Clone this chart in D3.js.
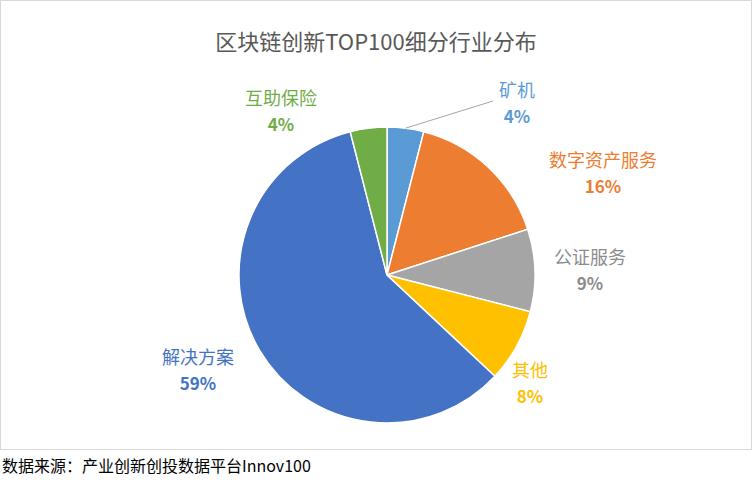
<!DOCTYPE html>
<html><head><meta charset="utf-8">
<script src="https://cdn.jsdelivr.net/npm/d3@7"></script>
<style>body{margin:0;background:#fff}</style>
</head><body>
<svg id="c" width="752" height="482"></svg>
<script>
const categories = ["矿机","数字资产服务","公证服务","其他","解决方案","互助保险"];
const values = [4,16,9,8,59,4];
const colors = ["#5B9BD5","#ED7D31","#A5A5A5","#FFC000","#4472C4","#70AD47"];
const labelPos = [[517,90],[603,160],[590,257],[530,370],[198,357],[281,98]];
const svg = d3.select("#c");
const font = "'Microsoft YaHei','Noto Sans CJK SC',sans-serif";
svg.append("rect").attr("x",0.5).attr("y",0.5).attr("width",751).attr("height",449).attr("fill","#fff").attr("stroke","#d9d9d9");
svg.append("text").attr("x",376).attr("y",50).attr("text-anchor","middle")
  .attr("font-family",font).attr("font-size",22).attr("fill","#595959").text("区块链创新TOP100细分行业分布");
const cx=387, cy=275, r=148;
const pie = d3.pie().sort(null).value(d=>d)(values);
const arc = d3.arc().innerRadius(0).outerRadius(r);
const g = svg.append("g").attr("transform",`translate(${cx},${cy})`);
g.selectAll("path").data(pie).join("path").attr("d",arc)
  .attr("fill",(d,i)=>colors[i]).attr("stroke","#fff").attr("stroke-width",1.5);
const a0 = (pie[0].startAngle+pie[0].endAngle)/2;
svg.append("line").attr("x1",cx+Math.sin(a0)*r).attr("y1",cy-Math.cos(a0)*r)
  .attr("x2",493).attr("y2",101).attr("stroke","#a6a6a6");
categories.forEach((c,i)=>{
  const [x,y]=labelPos[i];
  const col = i==2? "#8c8c8c" : colors[i];
  svg.append("text").attr("x",x).attr("y",y+7).attr("text-anchor","middle")
    .attr("font-family",font).attr("font-size",18).attr("fill",col).text(c);
  svg.append("text").attr("x",x).attr("y",y+33).attr("text-anchor","middle")
    .attr("font-family",font).attr("font-size",17).attr("font-weight","bold").attr("fill",col).text(values[i]+"%");
});
svg.append("text").attr("x",2).attr("y",472).attr("font-family",font).attr("font-size",16).attr("fill","#000")
  .text("数据来源：产业创新创投数据平台Innov100");
</script>
</body></html>
